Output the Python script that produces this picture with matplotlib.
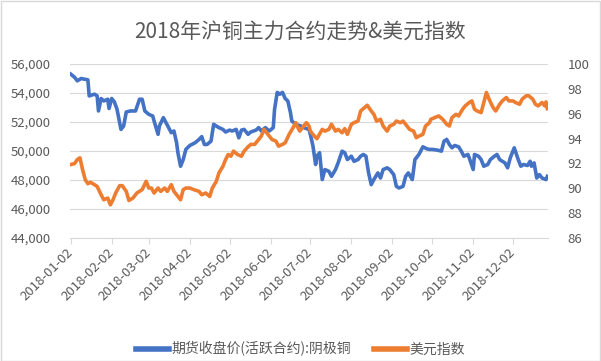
import matplotlib
matplotlib.use("Agg")
import matplotlib.pyplot as plt
import numpy as np
from matplotlib.patches import Rectangle

plt.rcParams['font.family'] = ['Noto Sans CJK SC', 'DejaVu Sans']

title = "2018年沪铜主力合约走势&美元指数"
start_date = "2018-01-02"
cu_label = "期货收盘价(活跃合约):阴极铜"
usd_label = "美元指数"

# days since 2018-01-02 and values
cu_day = [0, 3, 5, 8, 10, 13, 14, 18, 20, 21, 23, 25, 28, 29, 31, 33, 35, 38, 40, 42, 45, 49, 52, 54, 56,
          59, 62, 63, 66, 67, 70, 72, 74, 76, 78, 80, 81, 83, 85, 87, 90,
          94, 97, 99, 101, 103, 106, 108, 110, 112, 115, 117, 120, 122, 125, 127, 129, 131, 134, 136, 140,
          142, 144, 147, 150, 153, 154, 156, 158, 160, 162, 164, 166, 167, 170, 174, 176, 180,
          181, 183, 185, 186, 188, 190, 192, 195, 197, 200, 202, 205, 207, 209, 212, 214, 217, 219, 221, 223,
          225, 227, 229, 232, 234, 236, 239, 241, 244, 246, 248, 251, 253, 255, 258, 260, 263, 266, 269, 271,
          273, 277, 280, 282, 284, 286, 288, 290, 293, 295, 297, 300, 301, 304, 305, 308, 310, 312, 315, 317,
          320, 322, 324, 326, 328, 330, 332, 335, 338, 340, 342, 345, 347, 348, 350, 352, 354, 356, 359, 360]
cu_val = [55306, 55080, 54840, 55000, 54960, 54910, 53800, 53920, 53800, 52760, 53620, 53450, 53570, 52930,
          53620, 53390, 52880, 51490, 51720, 52690, 52760, 52760, 53570, 53570, 52760,
          52530, 52410, 52070, 51150, 51720, 52300, 51960, 51610, 51260, 51380, 50570, 49880, 48950, 49410, 50110, 50380,
          50570, 50800, 50990, 50450, 50450, 50680, 51840, 51720, 51610, 51490, 51310, 51440, 51380, 51490, 50910,
          51440, 51490, 51150, 51310, 51440,
          51610, 51380, 51610, 51380, 51610, 52880, 54040, 53920, 54040, 53620, 53450, 52650, 52070, 51840, 51720,
          51610, 51490,
          51150, 50340, 49070, 49640, 49880, 48030, 48720, 48600, 48250, 48720, 49180, 49990, 49880, 49410, 49640,
          49290, 49410, 49640, 49760, 49640,
          48490, 47680, 48030, 48490, 48140, 48720, 48840, 48720, 48370, 47560, 47450, 47560, 48250, 48490, 48030,
          49410, 49760, 50290, 50150, 50110,
          50110, 50060, 49990, 50680, 50800, 50450, 50220, 50380, 50290, 49990, 49640, 49760, 49530, 48720, 49760,
          49640, 49410, 48950, 49070, 49410,
          49640, 49760, 49410, 49290, 49180, 48840, 49530, 50220, 49410, 48950, 49070, 49000, 49290, 48950, 49180,
          48140, 48370, 48140, 48030, 48250]

usd_day = [0, 3, 5, 7, 9, 11, 13, 15, 18, 20, 23, 25, 28, 30, 32, 34, 37, 39, 42, 44, 47, 50, 54, 57, 59,
           61, 63, 66, 68, 71, 73, 76, 78, 81, 83, 85, 87, 90,
           93, 97, 99, 102, 105, 107, 110, 112, 115, 117, 119, 121, 123, 126, 129, 131, 134, 136, 139, 141,
           144, 146, 148, 150, 152, 155, 157, 160, 162, 165, 168, 170, 171, 173, 175, 178, 180,
           181, 184, 186, 190, 192, 195, 197, 200, 202, 205, 207, 209, 212, 214, 217, 219, 222, 224, 227, 229,
           231, 234, 236, 239, 241, 244, 246, 249, 251, 254, 256, 259, 261, 263, 266, 268, 271,
           272, 275, 278, 281, 284, 286, 288, 291, 293, 296, 298, 301, 303, 305, 307, 310, 312, 314, 316, 319,
           321, 324, 326, 329, 331, 334, 336, 339, 341, 344, 346, 349, 351, 353, 356, 358, 359, 360]
usd_val = [91.91, 91.99, 92.31, 92.45, 91.5, 90.7, 90.37, 90.48, 90.29, 90.15, 89.48, 89.08, 89.21, 88.67,
           89.08, 89.62, 90.21, 90.21, 89.75, 89.02, 89.21, 89.62, 89.89, 90.56, 90.02,
           90.02, 89.62, 90.02, 89.75, 90.02, 89.75, 90.29, 89.75, 89.34, 89.08, 89.89, 90.02, 90.02,
           89.89, 89.75, 89.48, 89.62, 89.34, 90.02, 90.56, 91.24, 91.77, 92.31, 92.72, 92.58, 92.99, 92.72,
           92.58, 92.99, 93.34, 93.53, 93.53, 93.8,
           94.2, 94.74, 94.47, 94.2, 93.93, 93.8, 93.39, 93.53, 93.66, 94.34, 94.88, 95.28, 95.01, 94.6, 94.88,
           95.28, 95.01,
           94.6, 94.2, 93.99, 94.74, 94.6, 94.74, 95.15, 94.6, 94.74, 94.47, 94.8, 94.34, 95.15, 95.28, 95.41,
           96.22, 96.5, 96.68, 96.22, 95.95,
           95.41, 95.55, 95.01, 94.6, 95.01, 95.15, 95.41, 95.28, 95.41, 95.01, 94.74, 94.6, 94.07, 94.2, 94.34,
           95.01, 95.28,
           95.55, 95.69, 95.82, 95.55, 95.15, 95.01, 95.69, 95.95, 95.82, 96.36, 96.63, 96.9, 97.03, 96.36, 96.22,
           96.09, 96.9, 97.71, 97.17, 96.5,
           96.22, 96.76, 97.03, 97.3, 97.03, 97.03, 96.9, 96.76, 97.17, 97.44, 97.44, 97.17, 96.76, 96.63, 96.9,
           96.63, 96.95, 96.41]

x_tick_labels = ["2018-01-02", "2018-02-02", "2018-03-02", "2018-04-02", "2018-05-02", "2018-06-02",
                 "2018-07-02", "2018-08-02", "2018-09-02", "2018-10-02", "2018-11-02", "2018-12-02"]
left_ticks = [44000, 46000, 48000, 50000, 52000, 54000, 56000]
right_ticks = [86, 88, 90, 92, 94, 96, 98, 100]

BLUE = "#4472C4"
ORANGE = "#ED7D31"
TXT = "#595959"
GRID = "#D9D9D9"

base = np.datetime64(start_date)
cu_dates = base + np.array(cu_day).astype("timedelta64[D]")
usd_dates = base + np.array(usd_day).astype("timedelta64[D]")
tick_dates = np.array(x_tick_labels, dtype="datetime64[D]")

fig = plt.figure(figsize=(6.01, 3.61), dpi=100)
fig.patches.append(Rectangle((0.001, 0.001), 0.997, 0.996, transform=fig.transFigure,
                             fill=False, edgecolor=GRID, linewidth=1.0))
ax = fig.add_axes([70 / 601, (361 - 238) / 361, 478 / 601, 174 / 361])
ax2 = ax.twinx()

l1, = ax.plot(cu_dates, cu_val, color=BLUE, lw=2.6, solid_joinstyle="round", label=cu_label)
l2, = ax2.plot(usd_dates, usd_val, color=ORANGE, lw=2.6, solid_joinstyle="round", label=usd_label)

ax.set_ylim(44000, 56000)
ax.set_yticks(left_ticks)
ax.set_yticklabels([f"{v:,}" for v in left_ticks])
ax2.set_ylim(86, 100)
ax2.set_yticks(right_ticks)
ax2.set_yticklabels([str(v) for v in right_ticks])

xmin = base - np.timedelta64(12, "h")
xmax = base + np.timedelta64(360, "D") + np.timedelta64(12, "h")
ax.set_xlim(xmin, xmax)
ax.set_xticks(tick_dates)
ax.set_xticklabels(x_tick_labels, rotation=45, ha="right", va="center", rotation_mode="anchor")

ax.grid(axis="y", color=GRID, lw=0.8)
ax.set_axisbelow(True)
for a in (ax, ax2):
    for s in ("left", "right", "top"):
        a.spines[s].set_visible(False)
    a.spines["bottom"].set_visible(False)
ax.spines["bottom"].set_visible(True)
ax.spines["bottom"].set_color(GRID)
ax.spines["bottom"].set_linewidth(0.8)

ax.tick_params(axis="y", length=0, pad=14, labelsize=9.5, labelcolor=TXT)
ax2.tick_params(axis="y", length=0, pad=14, labelsize=9.5, labelcolor=TXT)
ax.tick_params(axis="x", length=4, width=0.8, color=GRID, pad=5, labelsize=9.5, labelcolor=TXT)

fig.text(0.5, 1 - 32 / 361, title, ha="center", va="center", fontsize=15, color=TXT)

leg = fig.legend(handles=[l1, l2], loc="center", bbox_to_anchor=(0.5, 1 - 349 / 361), ncol=2,
                 frameon=False, fontsize=10, labelcolor=TXT, handlelength=2.4, handletextpad=0.2,
                 columnspacing=1.6)
for h in leg.get_lines():
    h.set_linewidth(4)

fig.savefig("out.png", dpi=100)
